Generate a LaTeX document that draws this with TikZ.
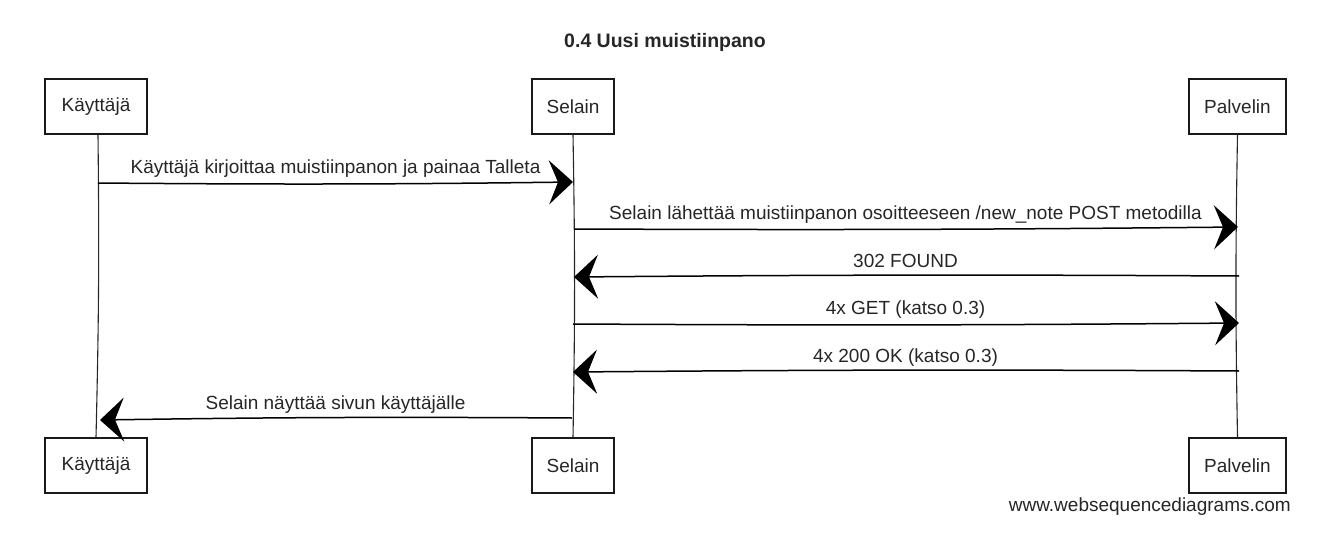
\documentclass[tikz,border=0pt]{standalone}
\usepackage{fontspec}
\setmainfont{Liberation Sans}
\usetikzlibrary{arrows.meta}
\begin{document}
\begin{tikzpicture}[x=1pt,y=-1pt,
  txt/.style={font=\fontsize{19}{22}\selectfont, text=black!85},
  actor/.style={draw=black!90, line width=1.3pt, minimum height=55pt, inner sep=0pt, txt},
  life/.style={draw=black!85, line width=1.1pt},
  msg/.style={draw=black, line width=1.5pt, -{Stealth[length=24pt,width=44pt,inset=9pt]}},
  lbl/.style={txt, anchor=base, inner sep=0pt}
]
\useasboundingbox (0,0) rectangle (1342,551);
\node[font=\bfseries\fontsize{19.5}{22}\selectfont, text=black!85] (title) at (665,42) {0.4 Uusi muistiinpano};

\node[actor, minimum width=102pt] (kt) at (96,106.5) {Käyttäjä};
\node[actor, minimum width=82pt] (st) at (573,106.5) {Selain};
\node[actor, minimum width=97pt] (pt) at (1237.5,106.5) {Palvelin};
\node[actor, minimum width=102pt] (kb) at (96,465.5) {Käyttäjä};
\node[actor, minimum width=82pt] (sb) at (573,465.5) {Selain};
\node[actor, minimum width=97pt] (pb) at (1237.5,465.5) {Palvelin};

\draw[life] (kt.south) ++(2,0) coordinate (kts) to[bend left=1] (kb.north);
\draw[life] (st.south) to[bend left=1] (sb.north);
\draw[life] (pt.south) to[bend right=1] (pb.north);

\coordinate (k1) at (98,183);
\coordinate (s1) at (573,182);
\coordinate (s2) at (574,229);
\coordinate (p2) at (1238,227);
\coordinate (p3) at (1239,276);
\coordinate (s3) at (574,277);
\coordinate (s4) at (573,324);
\coordinate (p4) at (1239,323);
\coordinate (p5) at (1239,371);
\coordinate (s5) at (573,372);
\coordinate (s6) at (572,418);
\coordinate (k6) at (100,420);

\draw[msg] (k1) to[bend right=0.6] (s1);
\draw[msg] (s2) to[bend right=0.4] (p2);
\draw[msg] (p3) to[bend right=0.4] (s3);
\draw[msg] (s4) to[bend right=0.4] (p4);
\draw[msg] (p5) to[bend right=0.4] (s5);
\draw[msg] (s6) to[bend right=0.6] (k6);

\node[lbl] (l1) at (335.5,173) {Käyttäjä kirjoittaa muistiinpanon ja painaa Talleta};
\node[lbl] (l2) at (905.5,219) {Selain lähettää muistiinpanon osoitteeseen /new\_note POST metodilla};
\node[lbl] (l3) at (905.5,267) {302 FOUND};
\node[lbl] (l4) at (905.5,314) {4x GET (katso 0.3)};
\node[lbl] (l5) at (905.5,362) {4x 200 OK (katso 0.3)};
\node[lbl] (l6) at (335.5,409) {Selain näyttää sivun käyttäjälle};

\node[txt, anchor=base east, inner sep=0pt] (wm) at (1291,511) {www.websequencediagrams.com};
\end{tikzpicture}
\end{document}
